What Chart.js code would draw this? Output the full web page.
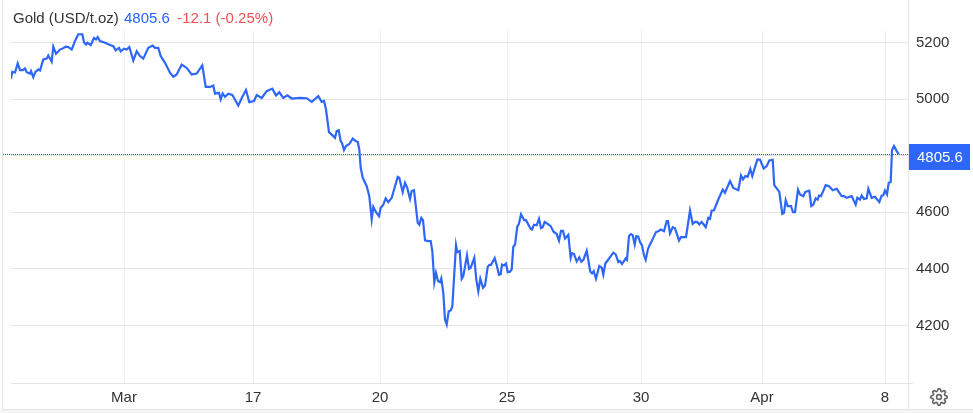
<!DOCTYPE html>
<html>
<head>
<meta charset="utf-8">
<title>Gold</title>
<script src="https://cdn.jsdelivr.net/npm/chart.js@4/dist/chart.umd.js"></script>
<style>
    html, body { margin: 0; padding: 0; background: #fff; overflow: hidden; }
    #wrap { position: relative; width: 973px; height: 413px; font-family: "Liberation Sans", Arial, sans-serif; }
    #legend { position: absolute; left: 13px; top: 10px; font-size: 15px; line-height: 16px; white-space: pre; color: #333; }
    #legend .last { color: #2962ff; margin-left: 1px; }
    #legend .chg { color: #f05050; margin-left: -1px; }
    #gear { position: absolute; left: 930px; top: 388px; }
</style>
</head>
<body>
<div id="wrap">
    <canvas id="goldChart" width="973" height="413"></canvas>
    <div id="legend">Gold (USD/t.oz) <span class="last">4805.6</span>  <span class="chg">-12.1 (-0.25%)</span></div>
    <svg id="gear" width="18" height="18" viewBox="0 0 24 24" fill="none" stroke="#666" stroke-width="2.2">
        <circle cx="12" cy="12" r="3.2"></circle>
        <path d="M19.4 15a1.7 1.7 0 0 0 .3 1.8l.1.1a2 2 0 1 1-2.9 2.9l-.1-.1a1.7 1.7 0 0 0-2.8 1.2V21a2 2 0 1 1-4 0v-.1a1.7 1.7 0 0 0-2.9-1.2l-.1.1a2 2 0 1 1-2.8-2.9l.1-.1a1.7 1.7 0 0 0-1.2-2.8H3a2 2 0 1 1 0-4h.1a1.7 1.7 0 0 0 1.2-2.9l-.1-.1a2 2 0 1 1 2.9-2.8l.1.1a1.7 1.7 0 0 0 1.8.3h.1a1.7 1.7 0 0 0 1-1.5V3a2 2 0 1 1 4 0v.1a1.7 1.7 0 0 0 2.9 1.2l.1-.1a2 2 0 1 1 2.8 2.9l-.1.1a1.7 1.7 0 0 0-.3 1.8v.1a1.7 1.7 0 0 0 1.5 1H21a2 2 0 1 1 0 4h-.1a1.7 1.7 0 0 0-1.5 1z"></path>
    </svg>
</div>
<script>
var lastPrice = 4805.6;

var times = [0,1.3,4,6.7,9,11.7,14,15.7,19,20,22.3,24.3,27.3,29,32.3,35.7,37.3,40.7,42.3,45,49,52.3,54.7,57.3,60.7,64,67.3,71.3,73,75,76.3,79.7,83,85,86.7,89,94,99,102.3,104.7,108,109.7,113,115.7,118.3,122.3,125.7,129,132.3,137.3,141.7,144,147.3,149.7,154,159,162.3,165.7,170.7,175.7,180.7,185.7,191.3,194.7,199,202.3,204,208,209.7,211.7,214,217.3,221.3,227.3,230.7,235,238.3,243,245.7,250.7,255.7,261.3,265,268.3,272.3,276.3,280.7,289,295.7,300.7,307.3,310.7,313,
    315,318,322.3,324,325.7,327.7,329.7,331,333,335,338.3,341.7,345,346.7,348.3,349.7,351.7,355.7,358.3,360.7,362.3,365,368,369.7,372.3,374.7,377.3,380.7,386.7,388.3,391.7,394,396.3,399,400.7,403,406.7,408.3,410.3,412,414,417.3,419.7,421.3,423.3,425,427,429,430.3,432.3,434,435.7,437.7,439.7,441.3,445,446.3,448.7,450.7,452.3,456,458,459.7,463.3,465.3,467.3,469.3,472,474,476.7,478.3,480,483.7,485.7,488,489.7,491,493,495,496.7,499,500.7,502.3,504,506.3,508,510,513.3,515,519.7,521,523,525.7,528,530,531.7,533.7,537.3,539.7,542.3,545.7,548,550,552,554,557.3,559.7,561,563,565.7,568.3,570.3,572.3,575.7,579.3,581,582.7,585,588.3,590.7,592.3,594.3,597.3,602.3,604.7,607.3,609,611,614.7,616,618,620,621.7,623.7,625.3,627.3,629,631,633,634.7,637,639,
    640.7,645,647.3,649.7,653,655.7,657,659,661.7,664,668,670,675,679,681.7,684,686.3,688.3,690.7,694.7,697.3,699,700.7,703,707.3,711.7,714,719,722.3,727.3,730,732,734.3,736.7,739.3,741.3,746.3,749,752.7,755.7,758.3,761.7,763.3,768.3,771.3,773,774.7,776.7,780,782,784,787,789,792.3,794.3,798.3,800.3,802.3,804.7,806.7,808,810,814.7,818,821.7,825.7,830.7,833,835.7,840.7,844.7,846.3,849,850.7,853,855.7,857.3,860.7,864,868.3,870.7,872.3,874,876,877.7,879.7,881,883,885.7,887.7];

var prices = [5072,5096,5094,5126,5102,5102,5108,5095,5090,5099,5077,5095,5105,5101,5140,5143,5154,5132,5185,5160,5175,5180,5185,5184,5175,5205,5229,5229,5201,5193,5199,5191,5216,5211,5219,5205,5199,5191,5187,5172,5181,5169,5178,5175,5184,5136,5169,5152,5143,5181,5189,5181,5181,5152,5128,5093,5079,5087,5122,5110,5087,5090,5119,5043,5043,5048,5019,5022,4999,5020,5008,5019,5015,4977,5004,5032,4989,4993,5014,5004,5028,5037,5013,5024,5004,5013,5002,5004,5003,4990,5010,4990,4993,
    4963,4883,4869,4863,4887,4890,4851,4845,4820,4834,4841,4860,4851,4849,4822,4757,4722,4692,4657,4575,4619,4600,4586,4616,4627,4649,4636,4651,4725,4722,4671,4704,4686,4647,4675,4678,4563,4556,4580,4572,4501,4498,4498,4463,4353,4386,4357,4353,4366,4315,4221,4203,4250,4253,4266,4484,4459,4463,4365,4374,4448,4400,4404,4439,4362,4321,4365,4333,4341,4407,4414,4414,4438,4413,4379,4381,4415,4412,4419,4388,4390,4398,4478,4485,4549,4560,4593,4572,4572,4541,4539,4556,4554,4577,4544,4547,4566,4557,4551,4532,4523,4500,4534,4534,4507,4520,4439,4455,4453,4426,4441,4425,4431,4464,4390,4384,4392,4365,4410,4404,4379,4419,4433,4457,4451,4424,4428,4417,4437,4432,4516,4523,4519,4486,4516,4514,4495,4483,4448,4432,4471,4486,
    4498,4530,4533,4539,4533,4569,4569,4525,4547,4543,4500,4512,4512,4606,4559,4566,4565,4557,4566,4547,4580,4577,4606,4607,4645,4680,4669,4710,4686,4678,4730,4716,4728,4725,4753,4728,4786,4786,4755,4763,4783,4785,4696,4672,4594,4598,4643,4622,4622,4600,4600,4680,4663,4657,4672,4676,4622,4627,4649,4645,4659,4657,4696,4692,4678,4683,4657,4657,4651,4657,4627,4651,4645,4659,4647,4649,4683,4651,4655,4636,4659,4660,4677,4663,4704,4707,4819,4834,4816,4805.6];

var tickTimes = [113, 242, 369, 496, 630, 751, 874];
var tickLabels = ['Mar', '17', '20', '25', '30', 'Apr', '8'];
var priceTicks = [4200, 4400, 4600, 4800, 5000, 5200];

var series = times.map(function (t, i) {
    return { x: t, y: prices[i] };
});

// frame lines and the last price tag
var lastPricePlugin = {
    id: 'lastPrice',
    afterDraw: function (chart) {
        var ctx = chart.ctx;
        var area = chart.chartArea;
        var y = Math.floor(chart.scales.y.getPixelForValue(lastPrice)) + 0.5;

        ctx.save();
        ctx.fillStyle = '#f5f5f5';
        ctx.fillRect(0, 410, 973, 3);

        ctx.strokeStyle = '#e4e4e4';
        ctx.lineWidth = 1;
        ctx.beginPath();
        ctx.moveTo(area.right + 0.5, 0);
        ctx.lineTo(area.right + 0.5, 409);
        ctx.moveTo(2.5, 0);
        ctx.lineTo(2.5, 409);
        ctx.moveTo(2, 409.5);
        ctx.lineTo(973, 409.5);
        ctx.moveTo(area.left, area.bottom + 0.5);
        ctx.lineTo(913, area.bottom + 0.5);
        ctx.stroke();

        ctx.strokeStyle = '#2a55c8';
        ctx.setLineDash([1, 1]);
        ctx.beginPath();
        ctx.moveTo(3, y);
        ctx.lineTo(area.right, y);
        ctx.stroke();
        ctx.setLineDash([]);

        ctx.fillStyle = '#2e66f8';
        ctx.fillRect(area.right + 1, y - 10.5, 61, 26);
        ctx.fillStyle = '#fff';
        ctx.font = '15px "Liberation Sans", Arial, sans-serif';
        ctx.textBaseline = 'middle';
        ctx.fillText(lastPrice.toFixed(1), 917, y + 3);
        ctx.restore();
    }
};

var ctx = document.getElementById('goldChart').getContext('2d');
var goldChart = new Chart(ctx, {
    type: 'line',
    data: {
        datasets: [{
            label: 'Gold',
            data: series,
            borderColor: '#2e66f8',
            borderWidth: 2.2,
            pointRadius: 0,
            tension: 0,
            fill: false
        }]
    },
    plugins: [lastPricePlugin],
    options: {
        responsive: false,
        animation: false,
        layout: { padding: { left: 11, top: 30, right: 0, bottom: 0 } },
        plugins: {
            legend: { display: false },
            title: { display: false },
            tooltip: { enabled: false }
        },
        scales: {
            x: {
                type: 'linear',
                min: 0,
                max: 897,
                afterBuildTicks: function (axis) {
                    axis.ticks = tickTimes.map(function (t) { return { value: t }; });
                },
                afterFit: function (axis) { axis.height = 30; },
                grid: { color: '#f0f0f3', drawTicks: false },
                border: { display: false },
                ticks: {
                    autoSkip: false,
                    maxRotation: 0,
                    padding: 6,
                    color: '#333',
                    font: { family: '"Liberation Sans", Arial, sans-serif', size: 15 },
                    callback: function (value) {
                        return tickLabels[tickTimes.indexOf(value)];
                    }
                }
            },
            y: {
                position: 'right',
                min: 3996.6,
                max: 5244.1,
                afterBuildTicks: function (axis) {
                    axis.ticks = priceTicks.map(function (v) { return { value: v }; });
                },
                afterFit: function (axis) { axis.width = 65; },
                grid: { color: '#e6e6e6', drawTicks: false },
                border: { display: false },
                ticks: {
                    padding: 8,
                    color: '#333',
                    font: { family: '"Liberation Sans", Arial, sans-serif', size: 15 },
                    callback: function (value) { return String(value); }
                }
            }
        }
    }
});
</script>
</body>
</html>
